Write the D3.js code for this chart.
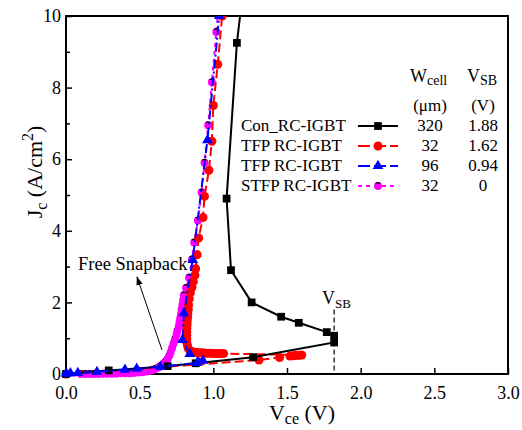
<!DOCTYPE html>
<html><head><meta charset="utf-8">
<script src="https://cdn.jsdelivr.net/npm/d3@7"></script>
<style>body{margin:0;background:#fff}svg{display:block}text{font-family:"Liberation Serif","Times New Roman",serif;fill:#000}</style>
</head><body><svg id="c" width="522" height="430"></svg>
<script>
// ---- data ----
const xTicks = [0, 0.5, 1.0, 1.5, 2.0, 2.5, 3.0];
const xTickLabels = ["0.0", "0.5", "1.0", "1.5", "2.0", "2.5", "3.0"];
const yTicks = [0, 2, 4, 6, 8, 10];
const yMinorTicks = [1, 3, 5, 7, 9];

// Con_RC-IGBT (Wcell 320)
const conV = [0, 0.29, 0.69, 0.88, 1.27, 1.82, 1.82, 1.77, 1.58, 1.46, 1.26, 1.12, 1.09, 1.16, 1.19];
const conJ = [0, 0.10, 0.22, 0.30, 0.47, 0.88, 1.07, 1.17, 1.43, 1.60, 2.00, 2.90, 4.90, 9.25, 10.3];

// TFP RC-IGBT (Wcell 32)
const tfp32V = [0, 1.31, 1.45, 1.52, 1.54, 1.56, 1.58, 1.60,
  1.07, 1.05, 1.03, 1.01, 0.99, 0.97, 0.95, 0.93, 0.91, 0.89, 0.87, 0.855, 0.84, 0.83, 0.825,
  0.82, 0.82, 0.82, 0.82, 0.82, 0.822, 0.823, 0.825, 0.827, 0.83, 0.832, 0.837, 0.844, 0.855, 0.864,
  0.875, 0.88, 0.89, 0.90, 0.93, 0.94, 0.97, 0.99, 1.00, 1.03, 1.06];
const tfp32J = [0, 0.39, 0.46, 0.50, 0.51, 0.52, 0.52, 0.53,
  0.57, 0.57, 0.57, 0.57, 0.58, 0.58, 0.58, 0.59, 0.59, 0.60, 0.61, 0.63, 0.66, 0.71, 0.79,
  0.88, 0.98, 1.08, 1.18, 1.28, 1.38, 1.48, 1.58, 1.68, 1.80, 1.93, 2.10, 2.27, 2.42, 2.58,
  2.76, 2.94, 3.33, 3.80, 4.37, 4.96, 5.69, 6.50, 7.50, 8.65, 10.0];

// TFP RC-IGBT (Wcell 96)
const tfp96V = [0, 0.03, 0.08, 0.21, 0.40, 0.48, 0.64, 0.89, 0.93, 0.84, 0.79, 0.80, 0.86, 0.96, 1.04];
const tfp96J = [0.01, 0.02, 0.03, 0.06, 0.12, 0.15, 0.20, 0.31, 0.37, 0.56, 0.95, 1.70, 3.19, 6.53, 10.0];

// STFP RC-IGBT (Wcell 32)
const stfpV = [0.10, 0.13, 0.16, 0.19, 0.22, 0.25, 0.28, 0.31, 0.34, 0.37, 0.40, 0.43, 0.46, 0.49, 0.52,
  0.55, 0.57, 0.59, 0.61, 0.63, 0.645, 0.66, 0.675, 0.69, 0.70, 0.71, 0.72, 0.73, 0.74, 0.75, 0.755,
  0.765, 0.77, 0.775, 0.78, 0.785, 0.79, 0.795, 0.80, 0.815, 0.835, 0.855, 0.87, 0.895, 0.92, 0.94,
  0.965, 0.99, 1.02, 1.035];
const stfpJ = [0.00, 0.00, 0.00, 0.00, 0.00, 0.01, 0.01, 0.01, 0.01, 0.02, 0.02, 0.02, 0.03, 0.04, 0.05,
  0.07, 0.09, 0.12, 0.15, 0.19, 0.23, 0.28, 0.34, 0.42, 0.50, 0.60, 0.72, 0.85, 0.97, 1.10, 1.20,
  1.32, 1.44, 1.55, 1.67, 1.80, 1.93, 2.06, 2.20, 2.40, 2.69, 3.20, 3.67, 4.29, 5.07, 5.90,
  6.95, 8.15, 9.55, 10.3];

const legendNames = ["Con_RC-IGBT", "TFP RC-IGBT", "TFP RC-IGBT", "STFP RC-IGBT"];
const legendWcell = ["320", "32", "96", "32"];
const legendVsb = ["1.88", "1.62", "0.94", "0"];
const vsbMarkV = 1.82;

// ---- chart ----
const svg = d3.select("#c");
const L = 66, R = 508, T = 16, B = 374;
const x = d3.scaleLinear().domain([0, 3]).range([L, R]);
const y = d3.scaleLinear().domain([0, 10]).range([B, T]);

svg.append("defs").append("clipPath").attr("id", "clip")
  .append("rect").attr("x", L - 10).attr("y", T).attr("width", R - L + 10).attr("height", B - T + 10);

// axes
const xAxis = svg.append("g").attr("transform", `translate(0,${B})`)
  .call(d3.axisBottom(x).tickValues(xTicks).tickFormat((d, i) => xTickLabels[i]).tickSizeInner(-6).tickSizeOuter(0).tickPadding(12));
const yAxis = svg.append("g").attr("transform", `translate(${L},0)`)
  .call(d3.axisLeft(y).tickValues(yTicks).tickFormat(d3.format("d")).tickSizeInner(-6).tickSizeOuter(0).tickPadding(5));
const yMinor = svg.append("g").attr("transform", `translate(${L},0)`)
  .call(d3.axisLeft(y).tickValues(yMinorTicks).tickFormat("").tickSizeInner(-4).tickSizeOuter(0));
[xAxis, yAxis, yMinor].forEach(g => {
  g.select(".domain").remove();
  g.selectAll(".tick line").attr("stroke", "#000").attr("stroke-width", 1.5);
  g.selectAll(".tick text").style("font-family", '"Liberation Serif",serif').style("font-size", "18px").attr("fill", "#000");
});
xAxis.selectAll(".tick text").attr("dy", "0.71em");
svg.append("rect").attr("x", L).attr("y", T).attr("width", R - L).attr("height", B - T)
  .attr("fill", "none").attr("stroke", "#000").attr("stroke-width", 2);

// axis titles
const xt = svg.append("text").attr("x", 302).attr("y", 420).attr("text-anchor", "middle").style("font-size", "22px");
xt.append("tspan").text("V");
xt.append("tspan").attr("dy", 4).style("font-size", "16px").text("ce");
xt.append("tspan").attr("dy", -4).text(" (V)");

const yt = svg.append("text").attr("transform", `translate(42,172) rotate(-90)`).attr("text-anchor", "middle").style("font-size", "22px");
yt.append("tspan").text("J");
yt.append("tspan").attr("dy", 5).style("font-size", "16px").text("c");
yt.append("tspan").attr("dy", -5).text(" (A/cm");
yt.append("tspan").attr("dy", -9).style("font-size", "16px").text("2");
yt.append("tspan").attr("dy", 9).text(")");

// annotation: VSB dashed
svg.append("line").attr("x1", x(vsbMarkV)).attr("x2", x(vsbMarkV)).attr("y1", y(1.8)).attr("y2", y(0.1))
  .attr("stroke", "#000").attr("stroke-width", 1.2).attr("stroke-dasharray", "5,3");
const vs = svg.append("text").attr("x", 322).attr("y", 304).style("font-size", "18px");
vs.append("tspan").text("V");
vs.append("tspan").attr("dy", 4).style("font-size", "13px").text("SB");

// Free Snapback
svg.append("text").attr("x", 78).attr("y", 270).style("font-size", "18.5px").text("Free Snapback");
svg.append("defs").append("marker").attr("id", "ah").attr("viewBox", "0 0 10 10").attr("refX", 9).attr("refY", 5)
  .attr("markerWidth", 9).attr("markerHeight", 9).attr("orient", "auto")
  .append("path").attr("d", "M0,1.5 L10,5 L0,8.5 Z").attr("fill", "#000");
svg.append("line").attr("x1", 162).attr("y1", 350).attr("x2", 137).attr("y2", 277)
  .attr("stroke", "#000").attr("stroke-width", 1).attr("marker-end", "url(#ah)");

const series = [
  {V: stfpV, J: stfpJ, color: "#ff00ff", dash: "4,4", sym: "stfp", size: 50},
  {V: tfp32V, J: tfp32J, color: "#ff0000", dash: "9,4", sym: d3.symbolCircle, size: 64},
  {V: conV, J: conJ, color: "#000000", dash: null, sym: d3.symbolSquare, size: 60},
  {V: tfp96V, J: tfp96J, color: "#0000ff", dash: "9,3,2,3", sym: d3.symbolTriangle, size: 50}
];
const plot = svg.append("g").attr("clip-path", "url(#clip)");
const line = d3.line().x(d => x(d[0])).y(d => y(d[1]));

function drawMarker(g, s, cx, cy) {
  if (s.sym === "stfp") {
    const r = Math.sqrt(s.size / Math.PI);
    g.append("circle").attr("cx", cx).attr("cy", cy).attr("r", r).attr("fill", s.color);
    g.append("path").attr("transform", `translate(${cx},${cy})`)
      .attr("d", `M${-r * 0.8},${-r * 0.6} A${r},${r} 0 0 1 ${r * 0.8},${-r * 0.6} Z`).attr("fill", "#000");
  } else {
    g.append("path").attr("transform", `translate(${cx},${cy})`)
      .attr("d", d3.symbol().type(s.sym).size(s.size)()).attr("fill", s.color);
  }
}

series.forEach(s => {
  const pts = s.V.map((v, i) => [v, s.J[i]]);
  plot.append("path").datum(pts).attr("d", line).attr("fill", "none").attr("stroke", s.color)
    .attr("stroke-width", 2).attr("stroke-dasharray", s.dash);
  const mg = plot.append("g");
  pts.forEach(p => drawMarker(mg, s, x(p[0]), y(p[1])));
});

// legend
const lg = svg.append("g");
const h1 = lg.append("text").attr("x", 410).attr("y", 82).style("font-size", "18px");
h1.append("tspan").text("W");
h1.append("tspan").attr("dy", 3).style("font-size", "14px").text("cell");
const h2 = lg.append("text").attr("x", 467).attr("y", 82).style("font-size", "18px");
h2.append("tspan").text("V");
h2.append("tspan").attr("dy", 3).style("font-size", "14px").text("SB");
lg.append("text").attr("x", 430).attr("y", 111).attr("text-anchor", "middle").style("font-size", "17px").text("(μm)");
lg.append("text").attr("x", 483).attr("y", 111).attr("text-anchor", "middle").style("font-size", "17px").text("(V)");
const legSeries = [series[2], series[1], series[3], series[0]];
legendNames.forEach((n, i) => {
  const by = 131 + i * 20;
  const cy = by - 5;
  const s = legSeries[i];
  lg.append("text").attr("x", 241).attr("y", by).style("font-size", "17px").text(n);
  lg.append("line").attr("x1", 358).attr("x2", 398).attr("y1", cy).attr("y2", cy)
    .attr("stroke", s.color).attr("stroke-width", 2).attr("stroke-dasharray", s.dash ? (i === 3 ? "4,4" : "12,4") : null);
  drawMarker(lg, s, 378, cy);
  lg.append("text").attr("x", 430).attr("y", by).attr("text-anchor", "middle").style("font-size", "17px").text(legendWcell[i]);
  lg.append("text").attr("x", 483).attr("y", by).attr("text-anchor", "middle").style("font-size", "17px").text(legendVsb[i]);
});
</script></body></html>
